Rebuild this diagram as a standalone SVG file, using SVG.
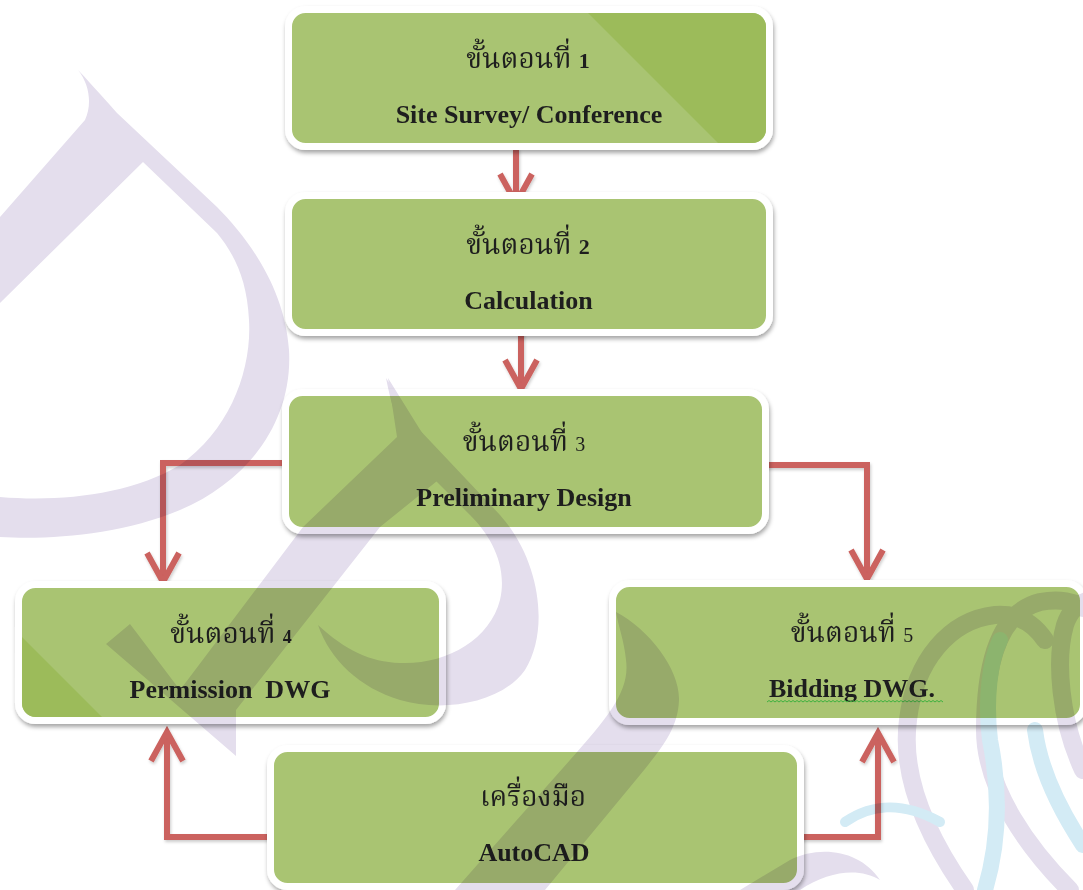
<svg xmlns="http://www.w3.org/2000/svg" width="1083" height="890" viewBox="0 0 1083 890">
<style>
.frame{fill:#a9c472;stroke:#ffffff;stroke-width:7;filter:url(#shadow)}
.accent{fill:#9cbb5a}
.th{font-family:"Noto Serif Thai","Noto Sans Thai","Angsana New","Tlwg Typo","Garuda","Loma","Norasi",sans-serif;font-size:28px;fill:#1e1e1e;text-anchor:middle}
.num{font-family:"Liberation Serif",serif;font-size:22px;font-weight:bold}
.numl{font-family:"Liberation Serif",serif;font-size:20px;font-weight:normal}
.en{font-family:"Liberation Serif",serif;font-size:26px;font-weight:bold;fill:#1e1e1e;text-anchor:middle;white-space:pre}
.conn{fill:none;stroke:#cb625e;stroke-width:6;marker-end:url(#chev)}
.wm{mix-blend-mode:multiply}
.lav{fill:#e4deed}
.lavs{fill:none;stroke:#e4deed;stroke-width:18;stroke-linecap:round}
.blus{fill:none;stroke:#d3ebf5;stroke-width:16;stroke-linecap:round}
</style>
<defs>
<filter id="shadow" x="-10%" y="-10%" width="120%" height="130%">
<feDropShadow dx="1" dy="3" stdDeviation="2.2" flood-color="#000" flood-opacity="0.35"/>
</filter>
<filter id="ashadow" x="-10%" y="-10%" width="120%" height="130%">
<feDropShadow dx="1" dy="2" stdDeviation="1.5" flood-color="#000" flood-opacity="0.2"/>
</filter>
<marker id="chev" markerUnits="userSpaceOnUse" viewBox="0 0 40 40" refX="34" refY="20" markerWidth="40" markerHeight="40" orient="auto">
<path d="M5,4 L34,20 L5,36" fill="none" stroke="#cb625e" stroke-width="6" stroke-linejoin="miter"/>
</marker>
</defs>
<rect x="0" y="0" width="1083" height="890" fill="#ffffff"/>

<g id="connectors" filter="url(#ashadow)">
<path class="conn" d="M516,148 V203"/>
<path class="conn" d="M521,332 V389"/>
<path class="conn" d="M284,463 H163 V582"/>
<path class="conn" d="M764,465 H867 V579"/>
<path class="conn" d="M270,837 H167 V732"/>
<path class="conn" d="M799,837 H878 V733"/>
</g>

<g id="node1">
<rect class="frame" x="288.5" y="9.5" width="481" height="137" rx="17"/>
<path class="accent" d="M588,13 H752 A14,14 0 0 1 766,27 V129 A14,14 0 0 1 752,143 H718 Z"/>
<text class="th" x="528" y="68">ขั้นตอนที่ <tspan class="num">1</tspan></text>
<text class="en" x="529" y="123">Site Survey/ Conference</text>
</g>

<g id="node2">
<rect class="frame" x="288.5" y="195.5" width="481" height="137" rx="17"/>
<text class="th" x="528" y="254">ขั้นตอนที่ <tspan class="num">2</tspan></text>
<text class="en" x="528.5" y="309">Calculation</text>
</g>

<g id="node3">
<rect class="frame" x="285.5" y="392.5" width="480" height="138" rx="17"/>
<text class="th" x="524" y="451">ขั้นตอนที่ <tspan class="numl">3</tspan></text>
<text class="en" x="524" y="506">Preliminary Design</text>
</g>

<g id="node4">
<rect class="frame" x="18.5" y="584.5" width="424" height="136" rx="17"/>
<path class="accent" d="M22,637 L102,717 H36 A14,14 0 0 1 22,703 Z"/>
<text class="th" x="231" y="643">ขั้นตอนที่ <tspan class="num" style="font-size:18px">4</tspan></text>
<text class="en" x="230" y="698">Permission  DWG</text>
</g>

<g id="node5">
<rect class="frame" x="612.5" y="583.5" width="471" height="138" rx="17"/>
<text class="th" x="852" y="642">ขั้นตอนที่ <tspan class="numl">5</tspan></text>
<text class="en" x="852" y="697">Bidding DWG.</text>
<path d="M767,702 l2,-1.5 l2,1.5 l2,-1.5 l2,1.5 l2,-1.5 l2,1.5 l2,-1.5 l2,1.5 l2,-1.5 l2,1.5 l2,-1.5 l2,1.5 l2,-1.5 l2,1.5 l2,-1.5 l2,1.5 l2,-1.5 l2,1.5 l2,-1.5 l2,1.5 l2,-1.5 l2,1.5 l2,-1.5 l2,1.5 l2,-1.5 l2,1.5 l2,-1.5 l2,1.5 l2,-1.5 l2,1.5 l2,-1.5 l2,1.5 l2,-1.5 l2,1.5 l2,-1.5 l2,1.5 l2,-1.5 l2,1.5 l2,-1.5 l2,1.5 l2,-1.5 l2,1.5 l2,-1.5 l2,1.5 l2,-1.5 l2,1.5 l2,-1.5 l2,1.5 l2,-1.5 l2,1.5 l2,-1.5 l2,1.5 l2,-1.5 l2,1.5 l2,-1.5 l2,1.5 l2,-1.5 l2,1.5 l2,-1.5 l2,1.5 l2,-1.5 l2,1.5 l2,-1.5 l2,1.5 l2,-1.5 l2,1.5 l2,-1.5 l2,1.5 l2,-1.5 l2,1.5 l2,-1.5 l2,1.5 l2,-1.5 l2,1.5 l2,-1.5 l2,1.5 l2,-1.5 l2,1.5 l2,-1.5 l2,1.5 l2,-1.5 l2,1.5 l2,-1.5 l2,1.5 l2,-1.5 l2,1.5 l2,-1.5 l2,1.5" fill="none" stroke="#3fb13f" stroke-width="1"/>
</g>

<g id="node6">
<rect class="frame" x="270.5" y="748.5" width="530" height="138" rx="17"/>
<text class="th" x="533" y="806">เครื่องมือ</text>
<text class="en" x="534" y="861">AutoCAD</text>
</g>

<g id="watermark" class="wm">
<path class="lav" d="M78,70 C95,88 108,103 117,113 L217,207 C250,240 285,290 289,350 C293,420 250,480 180,510 C120,535 50,540 0,537 L0,497 C60,502 130,495 180,465 C230,430 252,370 249,320 C247,280 235,255 217,233 L143,162 L0,303 L0,217 L85,120 C92,105 90,85 78,70 Z"/>
<path class="lav" d="M388,378 L447,473 L380,527 L236,710 L236,756 L106,644 L130,624 L180,690 L303,527 L397,437 Z"/>
<path class="lav" d="M386,378 C398,395 400,410 415,425 L500,515 C540,560 550,630 525,670 C500,705 440,712 400,700 C360,688 330,660 318,625 C345,650 370,662 400,663 C445,665 490,640 500,600 C508,565 490,535 470,515 L425,470 C410,455 395,425 386,378 Z"/>
<path class="lav" d="M616,612 C650,630 680,670 679,700 C678,730 660,750 640,775 L545,890 L455,890 L570,760 C610,715 630,690 626,660 C624,640 618,625 616,612 Z"/>
<path class="lav" d="M880,880 C860,850 820,845 790,860 L740,890 L800,890 C830,870 860,868 880,880 Z"/>
<path class="lavs" d="M965,890 C930,840 900,780 908,720 C915,660 950,620 995,615 C1020,613 1035,625 1045,640"/>
<path class="lavs" d="M1070,890 C1030,850 985,790 985,730 C985,660 1000,612 1040,602 C1060,598 1075,602 1083,608"/>
<path class="lavs" d="M1083,770 C1060,720 1055,660 1065,625 C1070,610 1078,603 1090,600"/>
<path class="blus" d="M985,890 C1000,840 1000,790 990,740 C985,700 990,660 1000,640"/>
<path class="blus" d="M1083,845 C1060,810 1040,770 1035,730"/>
<path class="blus" style="stroke-width:10" d="M845,822 C870,805 900,800 940,822"/>
</g>
</svg>
